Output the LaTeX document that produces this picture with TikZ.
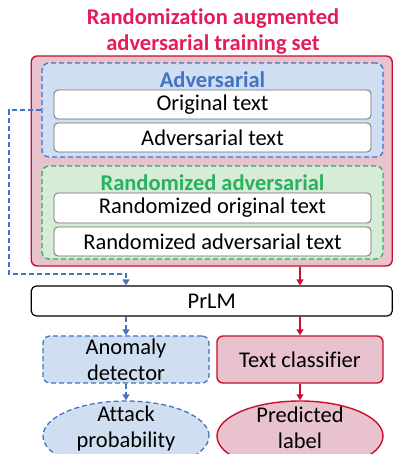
\documentclass[tikz,border=0pt]{standalone}
\usepackage{fontspec}
\setmainfont{Carlito}[Ligatures=NoCommon]
\usetikzlibrary{shapes.geometric,arrows.meta}
\definecolor{titlered}{RGB}{228,28,88}
\definecolor{redline}{RGB}{200,16,46}
\definecolor{pinkfill}{RGB}{232,194,204}
\definecolor{blueline}{RGB}{68,114,196}
\definecolor{bluefill}{RGB}{207,223,241}
\definecolor{greenline}{RGB}{46,178,98}
\definecolor{greenfill}{RGB}{214,236,214}
\definecolor{greentext}{RGB}{38,178,96}
\tikzset{
  txt/.style={font=\fontsize{22.5}{26}\selectfont, text=black, align=center, inner sep=0pt},
  ttl/.style={font=\fontsize{22.5}{26}\selectfont\bfseries, inner sep=0pt},
  outerbox/.style={draw=redline, fill=pinkfill, line width=1.4pt, rounded corners=6pt},
  bluebox/.style={draw=blueline, fill=bluefill, line width=1.3pt, dash pattern=on 5pt off 3pt, rounded corners=7pt},
  greenbox/.style={draw=greenline, fill=greenfill, line width=1.3pt, dash pattern=on 5pt off 3pt, rounded corners=7pt},
  whitebox/.style={txt, draw=gray!85!black, fill=white, line width=0.8pt, rounded corners=4pt},
  blackbox/.style={txt, draw=black, fill=white, line width=1.2pt, rounded corners=5pt},
  redbox/.style={txt, draw=redline, fill=pinkfill, line width=1.4pt, rounded corners=6pt},
  blueflow/.style={draw=blueline, line width=1.3pt, dash pattern=on 5pt off 3pt, -{Triangle[length=6pt,width=7pt]}},
  redflow/.style={draw=redline, line width=1.3pt, -{Triangle[length=6pt,width=7pt]}},
}
\begin{document}
\begin{tikzpicture}[x=1pt,y=-1pt]
\useasboundingbox (0,0) rectangle (393,454);
\clip (0,0) rectangle (393,454);
% title
\node[ttl, text=titlered] (t1) at (213,19) {Randomization augmented};
\node[ttl, text=titlered] (t2) at (213,45) {adversarial training set};
% outer box
\node[outerbox, minimum width=361pt, minimum height=210pt, inner sep=0pt] (outer) at (211.75,161) {};
% adversarial group
\node[bluebox, minimum width=341pt, minimum height=94pt, inner sep=0pt] (advbox) at (212.5,110) {};
\node[ttl, text=blueline] (advlbl) at (212.5,80) {Adversarial};
\node[whitebox, minimum width=317pt, minimum height=29pt] (orig) at (212.5,104.5) {Original text};
\node[whitebox, minimum width=317pt, minimum height=29pt] (advt) at (212.5,137.5) {Adversarial text};
% randomized group
\node[greenbox, minimum width=341pt, minimum height=93pt, inner sep=0pt] (randbox) at (212.5,212.5) {};
\node[ttl, text=greentext] (randlbl) at (212.5,183) {Randomized adversarial};
\node[whitebox, minimum width=317pt, minimum height=30pt] (rorig) at (212.5,208) {Randomized original text};
\node[whitebox, minimum width=317pt, minimum height=29pt] (radv) at (212.5,241.5) {Randomized adversarial text};
% PrLM
\node[blackbox, minimum width=361pt, minimum height=30pt] (prlm) at (211.75,301) {PrLM};
% heads
\node[txt, draw=blueline, fill=bluefill, line width=1.3pt, dash pattern=on 5pt off 3pt, rounded corners=7pt, minimum width=166pt, minimum height=47pt] (anom) at (126,359.5) {Anomaly\\detector};
\node[redbox, minimum width=166pt, minimum height=47pt] (tc) at (300,359.5) {Text classifier};
% outputs
\node[ellipse, draw=blueline, fill=bluefill, line width=1.3pt, dash pattern=on 5pt off 3pt, minimum width=166pt, minimum height=70pt, inner sep=0pt] (attack) at (126,436) {};
\node[txt] (attacktxt) at (126,428) {Attack\\probability};
\node[ellipse, draw=redline, fill=pinkfill, line width=1.4pt, minimum width=166pt, minimum height=70pt, inner sep=0pt] (pred) at (300,436) {};
\node[txt] (predtxt) at (300,428) {Predicted\\label};
% connectors
\coordinate (c1) at (9,274);
\draw[blueflow] (advbox.west) -| (c1) -| (anom.north |- prlm.north);
\draw[redflow] (tc.north |- outer.south) -- (tc.north |- prlm.north);
\draw[blueflow] (anom.north |- prlm.south) -- (anom.north);
\draw[redflow] (tc.north |- prlm.south) -- (tc.north);
\draw[blueflow] (anom.south) -- (attack.north);
\draw[redflow] (tc.south) -- (pred.north);
\end{tikzpicture}
\end{document}
